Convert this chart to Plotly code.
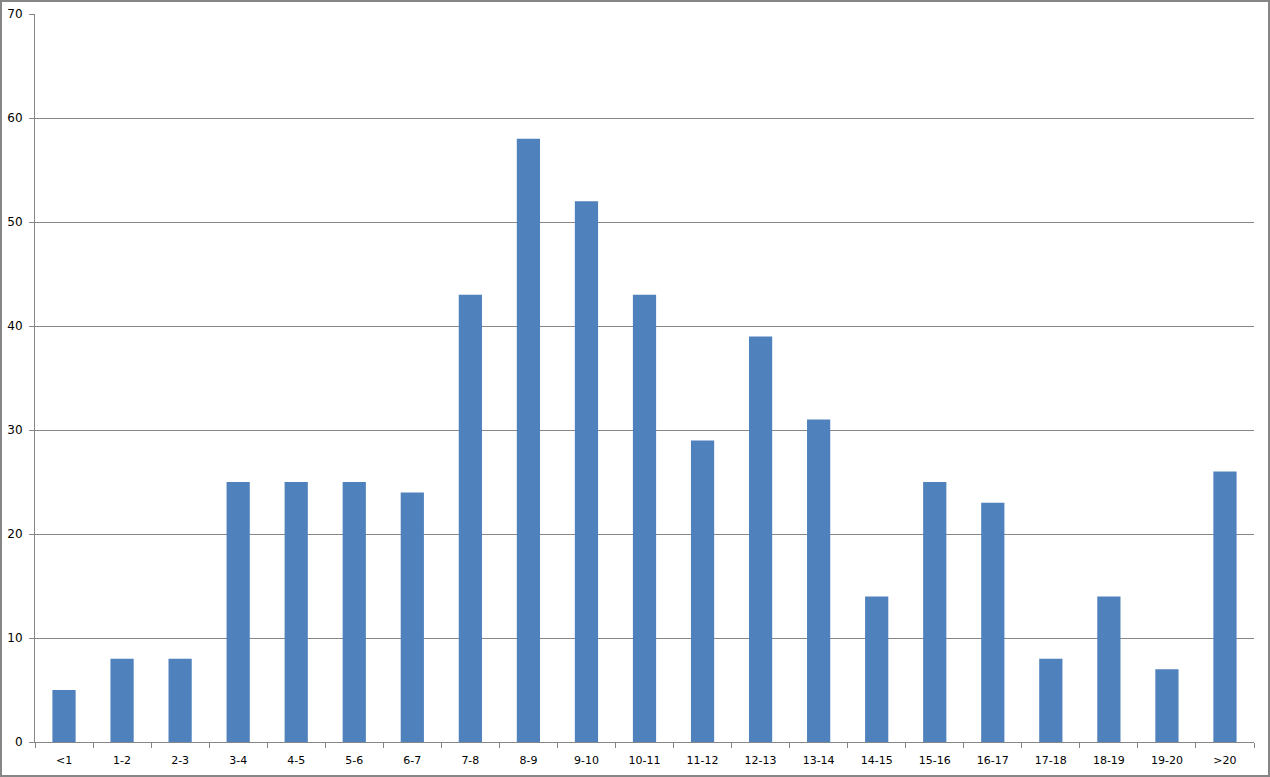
import plotly.graph_objects as go

categories = ["<1", "1-2", "2-3", "3-4", "4-5", "5-6", "6-7", "7-8", "8-9", "9-10",
              "10-11", "11-12", "12-13", "13-14", "14-15", "15-16", "16-17", "17-18",
              "18-19", "19-20", ">20"]
values = [5, 8, 8, 25, 25, 25, 24, 43, 58, 52, 43, 29, 39, 31, 14, 25, 23, 8, 14, 7, 26]
y_ticks = [0, 10, 20, 30, 40, 50, 60, 70]

W, H = 1270, 777
L, R, T, B = 35, 16, 14, 35
pw, ph = W - L - R, H - T - B

fig = go.Figure(go.Bar(x=categories, y=values, marker=dict(color="#4F81BD", line=dict(width=0))))

axis_col = "#868686"
fig.update_layout(
    width=W, height=H,
    margin=dict(l=L, r=R, t=T, b=B, pad=0, autoexpand=False),
    paper_bgcolor="white", plot_bgcolor="white",
    bargap=0.6,
    showlegend=False,
    font=dict(family="DejaVu Sans, Verdana, sans-serif", size=11, color="#000000"),
    xaxis=dict(type="category", showgrid=False, showline=True, linecolor=axis_col, linewidth=1,
               ticks="outside", tickson="boundaries", ticklen=5, tickcolor=axis_col,
               tickfont=dict(size=11), automargin=False, ticklabelstandoff=8),
    yaxis=dict(range=[0, 70], tickvals=y_ticks, showgrid=True, gridcolor=axis_col, gridwidth=1,
               showline=True, linecolor=axis_col, linewidth=1, ticks="outside", ticklen=5,
               tickcolor=axis_col, zeroline=False, tickfont=dict(size=12), automargin=False,
               ticklabelstandoff=4),
    shapes=[dict(type="rect", xref="paper", yref="paper",
                 x0=-(L - 1) / pw, x1=(pw + R - 1) / pw,
                 y0=-(B - 1) / ph, y1=(ph + T - 1) / ph,
                 line=dict(color=axis_col, width=2), fillcolor="rgba(0,0,0,0)", layer="above")],
)

fig.write_html("out.html", config={"displayModeBar": False},
               post_script="document.body.style.margin='0';document.body.style.overflow='hidden';")
